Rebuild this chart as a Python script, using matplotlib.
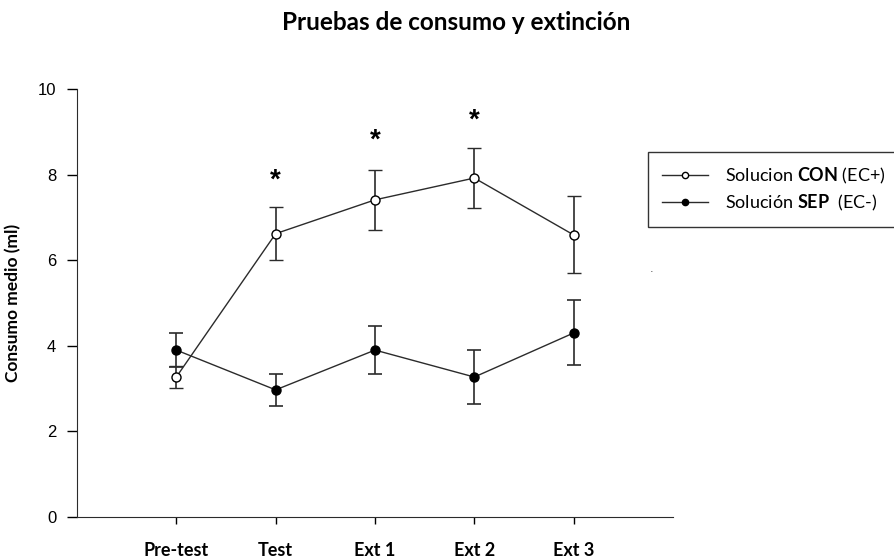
import matplotlib
matplotlib.use("Agg")
import matplotlib.pyplot as plt
from matplotlib.lines import Line2D

# data
fases = ["Pre-test", "Test", "Ext 1", "Ext 2", "Ext 3"]
con_media = [3.27, 6.62, 7.41, 7.92, 6.59]
con_err = [0.26, 0.62, 0.70, 0.71, 0.90]
sep_media = [3.90, 2.97, 3.90, 3.27, 4.30]
sep_err = [0.40, 0.38, 0.57, 0.64, 0.76]
asteriscos = {1: 7.87, 2: 8.8, 3: 9.27}

plt.rcParams['mathtext.fontset'] = 'custom'
plt.rcParams['mathtext.bf'] = 'Lato:bold'
plt.rcParams['mathtext.rm'] = 'Lato'

fig = plt.figure(figsize=(8.95, 5.58), dpi=100)
ax = fig.add_axes([0.086, 0.0735, 0.666, 0.767])

x = list(range(len(fases)))
col = "#2b2b2b"

ax.errorbar(x, sep_media, yerr=sep_err, color=col, lw=1, marker='o', ms=6.5,
            mfc='black', mec='black', capsize=5, elinewidth=1.2, capthick=1.2, zorder=3)
ax.errorbar(x, con_media, yerr=con_err, color=col, lw=1, marker='o', ms=6.5,
            mfc='white', mec='black', mew=1, capsize=5, elinewidth=1.2, capthick=1.2, zorder=4)

for i, yv in asteriscos.items():
    ax.text(i, yv, "*", ha='center', va='center', fontsize=20, fontweight='bold',
            family='Liberation Sans')

ax.set_xlim(-1, 5)
ax.set_ylim(0, 10)
ax.set_yticks([0, 2, 4, 6, 8, 10])
ax.set_xticks(x)
ax.set_xticklabels(fases, family='Lato', fontweight='bold', fontsize=13)
for lab in ax.get_yticklabels():
    lab.set_family('Liberation Sans')
    lab.set_fontsize(12)
ax.tick_params(axis='y', length=7, width=1, pad=8)
ax.tick_params(axis='x', length=5, width=1, pad=13)
ax.spines['top'].set_visible(False)
ax.spines['right'].set_visible(False)
ax.spines['left'].set_color(col)
ax.spines['bottom'].set_color(col)
ax.set_ylabel("Consumo medio (ml)", family='Lato', fontweight='bold', fontsize=12.5, labelpad=12)

fig.text(0.51, 0.96, "Pruebas de consumo y extinción", ha='center', va='center',
         family='Lato', fontweight='bold', fontsize=17.5)

h1 = Line2D([], [], color=col, lw=1, marker='o', ms=4.5, mfc='white', mec='black')
h2 = Line2D([], [], color=col, lw=1, marker='o', ms=4.5, mfc='black', mec='black')
leg = fig.legend([h1, h2], [r"Solucion $\mathbf{CON}$ (EC+)", r"Solución $\mathbf{SEP}$  (EC-)"],
                 loc='upper left', bbox_to_anchor=(0.724, 0.727), frameon=True, fancybox=False,
                 edgecolor='black', prop={'family': 'Lato', 'size': 13}, handlelength=2.6,
                 handletextpad=0.9, borderpad=0.75, labelspacing=0.4, borderaxespad=0)
leg.get_frame().set_linewidth(1)

fig.text(0.726, 0.513, ".", fontsize=8, color='#444')

fig.savefig("out.png", dpi=100)
